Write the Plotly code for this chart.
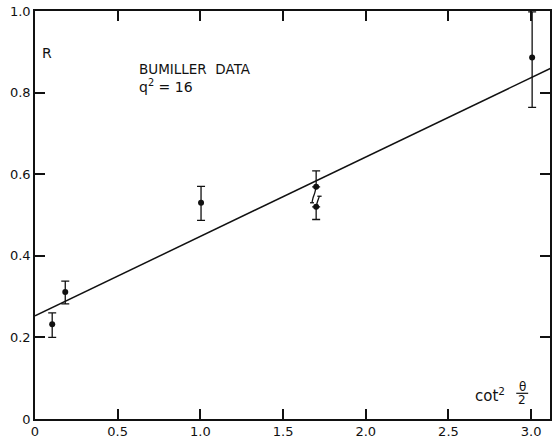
import plotly.graph_objects as go

# ---- data ----
x_pts = [0.104, 0.183, 1.004, 3.006]
y_pts = [0.232, 0.311, 0.530, 0.886]
err_plus = [0.028, 0.027, 0.040, 0.112]
err_minus = [0.032, 0.029, 0.043, 0.122]

# the pair at cot^2 = 1.7
x_pair = [1.70, 1.70]
y_pair = [0.569, 0.520]
pair_plus = [0.039, 0.0]
pair_minus = [0.0, 0.031]
# curled whiskers of the pair
curl_upper_x = [1.70, 1.692, 1.680, 1.675]
curl_upper_y = [0.569, 0.555, 0.540, 0.530]
curl_upper_tick_x = [1.663, 1.687]
curl_upper_tick_y = [0.530, 0.530]
curl_lower_x = [1.70, 1.706, 1.714, 1.720]
curl_lower_y = [0.520, 0.530, 0.540, 0.546]
curl_lower_tick_x = [1.707, 1.733]
curl_lower_tick_y = [0.546, 0.546]

# fitted line
fit_x = [0.0, 3.12]
fit_y = [0.253, 0.860]

x_ticks = [0, 0.5, 1.0, 1.5, 2.0, 2.5, 3.0]
x_ticktext = ["0", "0.5", "1.0", "1.5", "2.0", "2.5", "3.0"]
y_ticks = [0, 0.2, 0.4, 0.6, 0.8, 1.0]
y_ticktext = ["0", "0.2", "0.4", "0.6", "0.8", "1.0"]

FONT = "DejaVu Sans"
ink = "#111111"

fig = go.Figure()

fig.add_trace(go.Scatter(x=fit_x, y=fit_y, mode="lines",
                         line=dict(color=ink, width=1.5), hoverinfo="skip"))

fig.add_trace(go.Scatter(
    x=x_pts, y=y_pts, mode="markers",
    marker=dict(color=ink, size=6),
    error_y=dict(type="data", symmetric=False, array=err_plus, arrayminus=err_minus,
                 color=ink, thickness=1.3, width=4)))

fig.add_trace(go.Scatter(
    x=x_pair, y=y_pair, mode="markers",
    marker=dict(color=ink, size=6),
    error_y=dict(type="data", symmetric=False, array=pair_plus, arrayminus=pair_minus,
                 color=ink, thickness=1.3, width=4)))

for xs, ys in [(curl_upper_x, curl_upper_y), (curl_upper_tick_x, curl_upper_tick_y),
               (curl_lower_x, curl_lower_y), (curl_lower_tick_x, curl_lower_tick_y)]:
    fig.add_trace(go.Scatter(x=xs, y=ys, mode="lines", line=dict(color=ink, width=1.3),
                             line_shape="spline", hoverinfo="skip"))

axis_common = dict(showgrid=False, zeroline=False, showline=True, linecolor=ink,
                   linewidth=1.5, mirror="ticks", ticks="inside", ticklen=10,
                   tickwidth=1.5, tickcolor=ink,
                   tickfont=dict(family=FONT, size=13, color=ink))

fig.update_xaxes(range=[0, 3.114], tickvals=x_ticks, ticktext=x_ticktext, **axis_common)
fig.update_yaxes(range=[0, 1.0], tickvals=y_ticks, ticktext=y_ticktext, **axis_common)

fig.add_annotation(x=0.07, y=0.898, text="R", showarrow=False,
                   font=dict(family=FONT, size=14, color=ink),
                   xanchor="center", yanchor="middle")
fig.add_annotation(x=0.615, y=0.859, text="BUMILLER  DATA", showarrow=False,
                   font=dict(family=FONT, size=13.5, color=ink), xanchor="left", yanchor="middle")
fig.add_annotation(x=0.615, y=0.815, text="q<sup>2</sup> = 16", showarrow=False,
                   font=dict(family=FONT, size=14, color=ink), xanchor="left", yanchor="middle")
fig.add_annotation(x=2.65, y=0.058, text="cot<sup>2</sup>", showarrow=False,
                   font=dict(family=FONT, size=15, color=ink), xanchor="left", yanchor="middle")
fig.add_annotation(x=2.946, y=0.079, text="θ", showarrow=False,
                   font=dict(family=FONT, size=12, color=ink), xanchor="center", yanchor="middle")
fig.add_annotation(x=2.946, y=0.046, text="2", showarrow=False,
                   font=dict(family=FONT, size=12, color=ink), xanchor="center", yanchor="middle")
fig.add_shape(type="line", x0=2.91, x1=2.982, y0=0.063, y1=0.063,
              line=dict(color=ink, width=1.2))

fig.update_layout(width=554, height=441, showlegend=False,
                  margin=dict(l=35, r=2, t=11, b=20),
                  paper_bgcolor="white", plot_bgcolor="white")

fig.write_html("out.html")
